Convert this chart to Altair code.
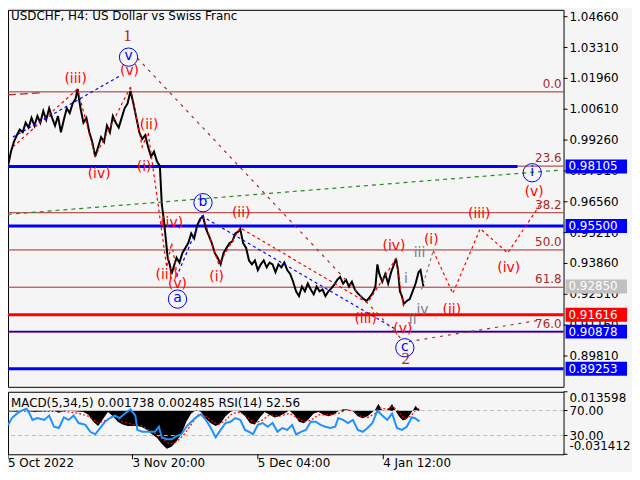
import altair as alt
import pandas as pd

FONT = "DejaVu Sans"
BG = "#f5f5f5"
BROWN = "#a52a2a"
RED = "#ff0000"
BLUE = "#0000ff"
GRAY = "#708090"
GREEN = "#228b22"

W = 560
H_MAIN = 380
H_IND = 63

title_text = "USDCHF, H4:  US Dollar vs Swiss Franc"
ind_text = "MACD(5,34,5) 0.001738 0.002485 RSI(14) 52.56"

# ---------------- price (bar index, close) ----------------
bar_idx = [0, 3, 6, 9, 12, 15, 18, 21, 24, 27, 30, 33, 36, 39, 42, 45, 48, 51, 54, 57,
           60, 63, 66, 69, 71, 74, 77, 80, 83, 86, 89, 92, 95, 98, 101, 104, 107, 110, 113, 116,
           119, 122, 125, 128, 131, 134, 137, 140, 143, 146, 149, 152, 155, 157, 159, 161, 163, 165, 167, 169,
           172, 175, 178, 181, 184, 187, 190, 193, 196, 199, 202, 205, 208, 211, 214, 217, 220, 223, 226, 229,
           232, 235, 237, 240, 243, 246, 249, 252, 255, 258, 261, 264, 267, 270, 273, 276, 279, 282, 285, 288,
           291, 294, 297, 300, 303, 306, 309, 312, 315, 318, 321, 324, 327, 330, 333, 336, 339, 342, 345, 348,
           351, 354, 357, 360, 363, 366, 369, 372, 375, 377, 379, 382, 385, 388, 391, 394, 396, 398, 400, 402,
           404, 407, 410, 413, 416, 419, 421, 424]
close = [0.9812, 0.9875, 0.9918, 0.9947, 0.9972, 0.9960, 1.0002, 0.9981, 1.0023, 0.9989, 1.0031, 1.0002, 1.0053, 1.0015, 1.0065, 1.0023, 0.9989, 1.0031, 0.9960, 1.0015,
         1.0065, 1.0044, 1.0086, 1.0107, 1.0150, 1.0065, 1.0002, 1.0023, 0.9960, 0.9918, 0.9854, 0.9896, 0.9939, 0.9918, 0.9989, 0.9960, 1.0031, 1.0002, 0.9981, 1.0023,
         1.0065, 1.0086, 1.0141, 1.0086, 1.0023, 0.9960, 0.9930, 0.9947, 0.9896, 0.9854, 0.9875, 0.9833, 0.9812, 0.9643, 0.9580, 0.9496, 0.9411, 0.9382, 0.9340, 0.9369,
         0.9411, 0.9390, 0.9432, 0.9454, 0.9475, 0.9517, 0.9496, 0.9551, 0.9580, 0.9593, 0.9538, 0.9508, 0.9475, 0.9432, 0.9411, 0.9382, 0.9432, 0.9454, 0.9475, 0.9483,
         0.9517, 0.9525, 0.9538, 0.9475, 0.9454, 0.9399, 0.9382, 0.9399, 0.9357, 0.9382, 0.9399, 0.9369, 0.9390, 0.9382, 0.9348, 0.9382, 0.9369, 0.9390, 0.9357, 0.9340,
         0.9306, 0.9264, 0.9243, 0.9285, 0.9264, 0.9298, 0.9272, 0.9251, 0.9285, 0.9264, 0.9272, 0.9243, 0.9264, 0.9277, 0.9293, 0.9314, 0.9327, 0.9298, 0.9314, 0.9285,
         0.9306, 0.9272, 0.9255, 0.9243, 0.9230, 0.9222, 0.9238, 0.9255, 0.9285, 0.9382, 0.9340, 0.9306, 0.9340, 0.9298, 0.9348, 0.9382, 0.9407, 0.9357, 0.9264, 0.9243,
         0.9209, 0.9222, 0.9230, 0.9264, 0.9298, 0.9348, 0.9357, 0.9285]

# ---------------- levels ----------------
price_ticks = [1.04660, 1.03310, 1.01960, 1.00610, 0.99260, 0.97910, 0.96560,
               0.95210, 0.93860, 0.92510, 0.91160, 0.89810]

fib_names = ["0.0", "23.6", "38.2", "50.0", "61.8", "76.0"]
fib_prices = [1.0137, 0.9812, 0.9608, 0.9445, 0.9282, 0.9085]

level_prices = [0.98105, 0.95500, 0.91616, 0.90878, 0.89253]
level_colors = [BLUE, BLUE, RED, BLUE, BLUE]
level_start = [0, 0, 0, 0, 0]
level_end = [520, 567, 567, 567, 567]
level_width = [3, 3, 3, 1.5, 3]

tag_prices = [0.98105, 0.95500, 0.92850, 0.91616, 0.90878, 0.89253]
tag_colors = [BLUE, BLUE, "#c0c0c0", RED, BLUE, BLUE]

# ---------------- wave lines ----------------
wave_lines = [
    ("r1", "red", [5, 71, 89, 125], [0.9896, 1.0150, 0.9854, 1.0158]),
    ("r2", "red", [125, 137, 143, 162, 167, 173], [1.0158, 0.9896, 0.9960, 0.9369, 0.9475, 0.9327]),
    ("r3", "red", [199, 215, 237, 367, 396, 404], [0.9593, 0.9382, 0.9542, 0.9213, 0.9407, 0.9188]),
    ("r4", "red", [434, 454, 482, 510, 545], [0.9441, 0.9255, 0.9538, 0.9432, 0.9656]),
    ("g1", "gray", [422, 434], [0.9272, 0.9441]),
    ("b1", "blue", [5, 115], [0.9939, 1.0209]),
    ("b2", "blue", [172, 198, 397], [0.9327, 0.9593, 0.9095]),
    ("d1", "brown", [132, 402], [1.0285, 0.9053]),
    ("d2", "brown", [409, 542], [0.9044, 0.9137]),
    ("e1", "browndash", [0, 34], [1.0124, 1.0133]),
    ("n1", "green", [0, 565], [0.9601, 0.9795]),
]
line_styles = {
    "red": (RED, [3, 3]),
    "gray": ("#808080", [3, 3]),
    "blue": (BLUE, [3, 3]),
    "brown": (BROWN, [3, 5]),
    "browndash": (BROWN, [8, 4]),
    "green": (GREEN, [4, 4]),
}

# ---------------- wave labels ----------------
red_text = ["(iii)", "(v)", "(ii)", "(iv)", "(i)", "(iv)", "(iii)", "(v)", "(ii)", "(i)",
            "(iii)", "(v)", "(iv)", "(i)", "(ii)", "(iii)", "(iv)", "(v)"]
red_x = [69, 124, 144, 93, 139, 167, 162, 173, 238, 213, 365, 403, 394, 432, 453, 481, 511, 537]
red_p = [1.0192, 1.0226, 0.9994, 0.9778, 0.9808, 0.9563, 0.9335, 0.9296, 0.9605, 0.9327,
         0.9141, 0.9098, 0.9462, 0.9487, 0.9184, 0.9601, 0.9365, 0.9698]

gray_text = ["iii", "i", "ii", "iv"]
gray_x = [420, 406, 413, 423]
gray_p = [0.9432, 0.9319, 0.9139, 0.9184]

circ_text = ["v", "a", "b", "c", "i"]
circ_x = [123, 173, 199, 405, 535]
circ_p = [1.0289, 0.9230, 0.9652, 0.9017, 0.9783]

num_text = ["1", "2"]
num_x = [122, 406]
num_p = [1.0382, 0.8966]

# ---------------- indicator ----------------
rsi_idx = [0, 4, 9, 14, 19, 22, 25, 30, 37, 42, 47, 52, 57, 62, 67, 72, 79, 84, 89, 94,
           99, 104, 109, 114, 119, 125, 130, 132, 137, 144, 150, 154, 157, 162, 167, 172, 177, 182, 187, 192,
           197, 202, 207, 212, 217, 222, 227, 232, 237, 242, 247, 250, 255, 260, 265, 270, 275, 280, 285, 290,
           294, 299, 304, 309, 314, 319, 324, 329, 334, 337, 342, 347, 352, 357, 362, 367, 372, 377, 382, 387,
           392, 397, 402, 407, 412, 415, 420]
rsi_val = [47, 58, 65, 70, 73, 65, 55, 58, 55, 62, 44, 42, 59, 55, 62, 50, 47, 36, 32, 42,
           52, 58, 62, 58, 65, 72, 62, 39, 36, 36, 36, 44, 27, 24, 24, 29, 32, 44, 52, 59,
           64, 55, 42, 27, 39, 50, 52, 58, 55, 39, 35, 32, 47, 50, 44, 50, 36, 42, 39, 47,
           32, 36, 39, 52, 52, 47, 44, 42, 44, 58, 55, 50, 55, 39, 36, 42, 50, 70, 62, 55,
           65, 42, 39, 44, 59, 58, 52.56]

macd_idx = [0, 7, 17, 27, 37, 47, 52, 57, 62, 67, 77, 82, 87, 92, 97, 102, 107, 112, 117, 122,
            127, 132, 137, 142, 147, 152, 157, 162, 167, 172, 177, 182, 187, 192, 197, 202, 207, 212, 217, 222,
            227, 232, 237, 242, 247, 252, 257, 262, 267, 272, 277, 282, 287, 292, 297, 302, 307, 312, 317, 322,
            327, 332, 337, 342, 347, 352, 357, 362, 367, 372, 375, 378, 381, 385, 389, 392, 395, 399, 403, 407,
            411, 414, 416, 418, 420]
macd_val = [-0.0005, -0.0008, 0.0002, -0.0010, -0.0005, -0.0003, -0.0015, -0.0004, 0.0000, -0.0005,
            -0.0010, -0.0030, -0.0080, -0.0110, -0.0060, -0.0010, -0.0040, -0.0080, -0.0100, -0.0110,
            -0.0110, -0.0110, -0.0120, -0.0140, -0.0170, -0.0195, -0.0240, -0.0275, -0.0260, -0.0220,
            -0.0170, -0.0080, -0.0020, 0.0005, -0.0010, -0.0060, -0.0090, -0.0110, -0.0090, -0.0040,
            -0.0010, 0.0005, -0.0010, -0.0040, -0.0090, -0.0100, -0.0050, -0.0010, -0.0030, -0.0050,
            -0.0040, -0.0020, 0.0002, -0.0030, -0.0080, -0.0090, -0.0060, -0.0020, -0.0010, -0.0030,
            -0.0040, -0.0030, -0.0005, 0.0010, 0.0008, -0.0005, -0.0040, -0.0055, -0.0040, -0.0010,
            0.0010, 0.0050, 0.0010, -0.0005, 0.0020, 0.0048, 0.0005, -0.0040, -0.0070, -0.0060,
            -0.0020, 0.0010, 0.0035, 0.0015, 0.0008]

sig_idx = [0, 17, 37, 57, 72, 82, 92, 100, 107, 117, 127, 137, 147, 157, 165, 172, 180, 187, 194, 202,
           209, 215, 222, 229, 237, 245, 252, 259, 267, 277, 287, 295, 302, 309, 317, 327, 337, 345, 352, 360,
           367, 375, 380, 387, 393, 399, 405, 411, 417, 420]
sig_val = [-0.0005, -0.0003, -0.0006, -0.0003, -0.0020, -0.0040, -0.0090, -0.0070, -0.0040, -0.0080,
           -0.0100, -0.0110, -0.0150, -0.0200, -0.0240, -0.0225, -0.0170, -0.0100, -0.0030, -0.0040,
           -0.0080, -0.0100, -0.0070, -0.0020, -0.0010, -0.0050, -0.0090, -0.0070, -0.0030, -0.0040,
           -0.0020, -0.0050, -0.0080, -0.0070, -0.0030, -0.0030, -0.0020, 0.0005, 0.0000, -0.0040,
           -0.0050, -0.0020, 0.0020, 0.0010, 0.0030, -0.0010, -0.0060, -0.0040, 0.0010, 0.0020]

rsi_levels = [70, 30]
macd_top = 0.013598
macd_bottom = -0.031412
date_ticks = [0, 127, 255, 383]
date_labels = ["5 Oct 2022", "3 Nov 20:00", "5 Dec 04:00", "4 Jan 12:00"]

# ---------------- scales ----------------
xs = alt.Scale(domain=[0, 567], nice=False, zero=False)
ys = alt.Scale(domain=[0.8846, 1.0496], nice=False, zero=False)
ms = alt.Scale(domain=[macd_bottom, macd_top], nice=False, zero=False)
rs = alt.Scale(domain=[0, 100], nice=False, zero=False)


def X(f="x"):
    return alt.X(f"{f}:Q", scale=xs, axis=None)


def Y(f="p", sc=ys):
    return alt.Y(f"{f}:Q", scale=sc, axis=None)


def txt(**kw):
    base = dict(font=FONT, fontSize=12, color="black")
    base.update(kw)
    return base


# ---------------- main panel ----------------
df_price = pd.DataFrame({"x": bar_idx, "p": close})
df_fib = pd.DataFrame({"n": fib_names, "p": fib_prices})
df_lvl = pd.DataFrame({"x0": level_start, "x1": level_end, "p": level_prices,
                       "c": level_colors, "w": level_width})
df_tag = pd.DataFrame({"p": tag_prices, "c": tag_colors,
                       "t": [f"{v:.5f}" for v in tag_prices]})
df_pt = pd.DataFrame({"p": price_ticks, "t": [f"{v:.5f}" for v in price_ticks]})

fib_rules = alt.Chart(df_fib).mark_rule(color=BROWN, strokeWidth=1).encode(y=Y("p"))
fib_lbls = alt.Chart(df_fib).mark_text(align="right", baseline="bottom", dy=-1,
                                       **txt(color=BROWN)).encode(
    x=alt.value(W - 2), y=Y("p"), text="n:N")
lvl_rules = alt.Chart(df_lvl).mark_rule().encode(
    x=X("x0"), x2="x1:Q", y=Y("p"),
    color=alt.Color("c:N", scale=None),
    strokeWidth=alt.StrokeWidth("w:Q", scale=None))

price_line = alt.Chart(df_price).mark_line(color="black", strokeWidth=2).encode(x=X(), y=Y())

wave_layers = []
for style, (col, dash) in line_styles.items():
    rows = []
    for name, st, lx, lp in wave_lines:
        if st == style:
            for a, b in zip(lx, lp):
                rows.append({"seg": name, "x": a, "p": b})
    if rows:
        wave_layers.append(
            alt.Chart(pd.DataFrame(rows)).mark_line(color=col, strokeDash=dash, strokeWidth=1.2).encode(
                x=X(), y=Y(), detail="seg:N"))

red_lbl = alt.Chart(pd.DataFrame({"x": red_x, "p": red_p, "t": red_text})).mark_text(
    baseline="middle", **txt(color=RED, fontSize=14)).encode(x=X(), y=Y(), text="t:N")
gray_lbl = alt.Chart(pd.DataFrame({"x": gray_x, "p": gray_p, "t": gray_text})).mark_text(
    baseline="middle", **txt(color=GRAY, fontSize=14)).encode(x=X(), y=Y(), text="t:N")
df_circ = pd.DataFrame({"x": circ_x, "p": circ_p, "t": circ_text})
circ_pts = alt.Chart(df_circ).mark_point(shape="circle", filled=False, size=340, color=BLUE,
                                         strokeWidth=1, opacity=1).encode(x=X(), y=Y())
circ_lbl = alt.Chart(df_circ).mark_text(baseline="middle", dy=-1,
                                        **txt(color=BLUE, fontSize=14)).encode(
    x=X(), y=Y(), text="t:N")
num_lbl = alt.Chart(pd.DataFrame({"x": num_x, "p": num_p, "t": num_text})).mark_text(
    baseline="middle", **txt(color=BROWN, font="Liberation Serif", fontSize=17)).encode(
    x=X(), y=Y(), text="t:N")

# right price scale drawn as marks
pt_ticks = alt.Chart(df_pt).mark_rule(color="black", strokeWidth=1).encode(
    x=alt.value(W), x2=alt.value(W + 4), y=Y("p"))
pt_lbls = alt.Chart(df_pt).mark_text(align="left", baseline="middle", **txt()).encode(
    x=alt.value(W + 6), y=Y("p"), text="t:N")

tag_box = alt.Chart(df_tag).mark_point(shape="M-1,-0.226H1V0.226H-1Z", size=3844, filled=True,
                                       opacity=1, strokeWidth=0).encode(
    x=alt.value(W + 33), y=Y("p"), color=alt.Color("c:N", scale=None))
tag_txt = alt.Chart(df_tag).mark_text(align="left", baseline="middle", **txt(color="white")).encode(
    x=alt.value(W + 5), y=Y("p"), text="t:N")

title_mark = alt.Chart(pd.DataFrame({"t": [title_text]})).mark_text(
    align="left", baseline="middle", **txt()).encode(
    x=alt.value(3), y=alt.value(6), text="t:N")

main = alt.layer(fib_rules, lvl_rules, price_line, *wave_layers, fib_lbls, red_lbl, gray_lbl,
                 circ_pts, circ_lbl, num_lbl, pt_ticks, pt_lbls, tag_box, tag_txt,
                 title_mark).properties(width=W, height=H_MAIN)

# ---------------- indicator panel ----------------
df_macd_t = pd.DataFrame({"m": [macd_top, macd_bottom],
                          "t": [f"{macd_top:.6f}", f"{macd_bottom:.6f}"]})
df_rsi_t = pd.DataFrame({"r": rsi_levels, "t": [f"{v:.2f}" for v in rsi_levels]})
df_dates = pd.DataFrame({"x": date_ticks, "t": date_labels})

macd_area = alt.Chart(pd.DataFrame({"x": macd_idx, "m": macd_val})).mark_area(color="black").encode(
    x=X(), y=Y("m", ms), y2=alt.datum(0))
sig_line = alt.Chart(pd.DataFrame({"x": sig_idx, "m": sig_val})).mark_line(
    color=RED, strokeDash=[2, 2], strokeWidth=1.2).encode(x=X(), y=Y("m", ms))
macd_ticks = alt.Chart(df_macd_t).mark_rule(color="black").encode(
    x=alt.value(W), x2=alt.value(W + 4), y=Y("m", ms))
macd_top_lbl = alt.Chart(df_macd_t.iloc[[0]]).mark_text(align="left", baseline="top", dy=1,
                                                        **txt()).encode(
    x=alt.value(W + 6), y=Y("m", ms), text="t:N")
macd_bot_lbl = alt.Chart(df_macd_t.iloc[[1]]).mark_text(align="left", baseline="bottom", dy=-1,
                                                        **txt()).encode(
    x=alt.value(W + 6), y=Y("m", ms), text="t:N")

rsi_rule = alt.Chart(df_rsi_t).mark_rule(color="#bdbdbd", strokeDash=[4, 3], strokeWidth=1).encode(
    y=Y("r", rs))
rsi_line = alt.Chart(pd.DataFrame({"x": rsi_idx, "r": rsi_val})).mark_line(
    color="#1e90ff", strokeWidth=2).encode(x=X(), y=Y("r", rs))
rsi_ticks = alt.Chart(df_rsi_t).mark_rule(color="black").encode(
    x=alt.value(W), x2=alt.value(W + 4), y=Y("r", rs))
rsi_lbls = alt.Chart(df_rsi_t).mark_text(align="left", baseline="middle", **txt()).encode(
    x=alt.value(W + 6), y=Y("r", rs), text="t:N")

date_tick = alt.Chart(df_dates).mark_rule(color="black", strokeWidth=1).encode(
    x=X(), y=alt.value(H_IND), y2=alt.value(H_IND + 5))
date_lbl = alt.Chart(df_dates).mark_text(align="left", baseline="top", **txt()).encode(
    x=X(), y=alt.value(H_IND + 4), text="t:N")
ind_lbl = alt.Chart(pd.DataFrame({"t": [ind_text]})).mark_text(
    align="left", baseline="middle", **txt()).encode(
    x=alt.value(3), y=alt.value(11), text="t:N")

ind = alt.layer(
    alt.layer(macd_area, sig_line, macd_ticks, macd_top_lbl, macd_bot_lbl),
    alt.layer(rsi_rule, rsi_line, rsi_ticks, rsi_lbls, date_tick, date_lbl, ind_lbl),
).resolve_scale(y="independent").properties(width=W, height=H_IND)

chart = alt.vconcat(main, ind, spacing=3).properties(
    padding={"left": -5, "top": -1, "right": 0, "bottom": 0}, background=BG
).configure_view(stroke="black", strokeWidth=1, fill=BG)

chart.save("out.html", embed_options={"renderer": "svg", "actions": False})
